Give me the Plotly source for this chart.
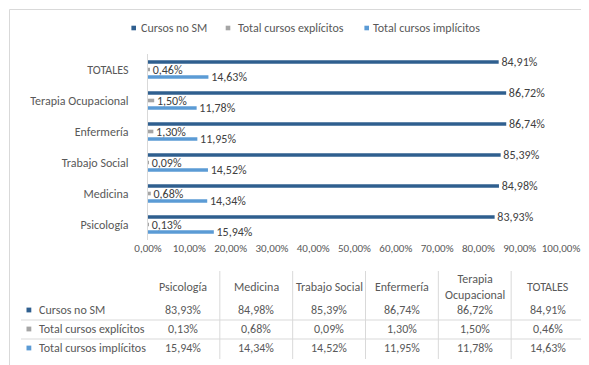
import plotly.graph_objects as go

# ---------------- data ----------------
categories = ["Psicología", "Medicina", "Trabajo Social", "Enfermería",
              "Terapia Ocupacional", "TOTALES"]
table_headers = ["Psicología", "Medicina", "Trabajo Social", "Enfermería",
                 "Terapia<br>Ocupacional", "TOTALES"]
series_names = ["Cursos no SM", "Total cursos explícitos", "Total cursos implícitos"]
cursos_no_sm = [83.93, 84.98, 85.39, 86.74, 86.72, 84.91]
cursos_explicitos = [0.13, 0.68, 0.09, 1.30, 1.50, 0.46]
cursos_implicitos = [15.94, 14.34, 14.52, 11.95, 11.78, 14.63]
x_ticks = [0, 10, 20, 30, 40, 50, 60, 70, 80, 90, 100]

series_values = [cursos_no_sm, cursos_explicitos, cursos_implicitos]
colors = ["#2F5F8F", "#A5A5A5", "#5B9BD5"]

# ---------------- layout geometry (pixels) ----------------
W, H = 589, 365
L, R, T, B = 140, 553, 46, 232
FONT = "Carlito, Calibri, Lato, 'Liberation Sans', sans-serif"
FS = 12
TXT = "#595959"
LINE = "#D9D9D9"


def px(x):
    return (x - L) / (R - L)


def py(y):
    return (B - y) / (B - T)


def fmt(v):
    return f"{v:.2f}".replace(".", ",") + "%"


fig = go.Figure()

# add in reverse so that "Cursos no SM" sits on top within each group
for name, vals, col in reversed(list(zip(series_names, series_values, colors))):
    fig.add_trace(go.Bar(
        name=name, y=categories, x=vals, orientation="h",
        marker=dict(color=col, line=dict(width=0)),
        text=["\u00a0" + fmt(v) for v in vals], textposition="outside",
        textfont=dict(family=FONT, size=FS, color="#404040"),
        constraintext="none", cliponaxis=False, showlegend=False,
        hoverinfo="x+y",
    ))

shapes = []
annotations = []

# chart border
shapes.append(dict(type="rect", xref="paper", yref="paper",
                   x0=px(1.5), x1=px(587.5), y0=py(363.5), y1=py(1.5),
                   line=dict(color=LINE, width=1), fillcolor="rgba(0,0,0,0)",
                   layer="below"))

# legend (top)
legend_sq_x = [125.7, 220.0, 358.7]
legend_txt_x = [130.5, 227.5, 362.5]
legend_y = 20
for name, col, sx, tx in zip(series_names, colors, legend_sq_x, legend_txt_x):
    shapes.append(dict(type="rect", xref="paper", yref="paper",
                       x0=px(sx - 2.3), x1=px(sx + 2.3),
                       y0=py(legend_y + 2.3), y1=py(legend_y - 2.3),
                       line=dict(width=0), fillcolor=col))
    annotations.append(dict(xref="paper", yref="paper", x=px(tx), y=py(legend_y),
                            xanchor="left", yanchor="middle", showarrow=False,
                            text=name, font=dict(family=FONT, size=FS, color=TXT)))

# data table
col_left, col_right = 139, 576
ncol = len(categories)
cw = (col_right - col_left) / ncol
col_bounds = [col_left + i * cw for i in range(ncol + 1)]
col_centers = [col_left + (i + 0.5) * cw for i in range(ncol)]
header_y = 279
row_y = [302, 321, 340]

for hdr, cx in zip(table_headers, col_centers):
    annotations.append(dict(xref="paper", yref="paper", x=px(cx), y=py(header_y),
                            xanchor="center", yanchor="middle", showarrow=False,
                            text=hdr, font=dict(family=FONT, size=FS, color=TXT)))

for name, vals, col, ry in zip(series_names, series_values, colors, row_y):
    shapes.append(dict(type="rect", xref="paper", yref="paper",
                       x0=px(18.5), x1=px(23.3), y0=py(ry + 2.4), y1=py(ry - 2.4),
                       line=dict(width=0), fillcolor=col))
    annotations.append(dict(xref="paper", yref="paper", x=px(28.5), y=py(ry),
                            xanchor="left", yanchor="middle", showarrow=False,
                            text=name, font=dict(family=FONT, size=FS, color=TXT)))
    for v, cx in zip(vals, col_centers):
        annotations.append(dict(xref="paper", yref="paper", x=px(cx), y=py(ry),
                                xanchor="center", yanchor="middle", showarrow=False,
                                text=fmt(v), font=dict(family=FONT, size=FS, color=TXT)))

# table horizontal lines
for hy in [312, 331]:
    shapes.append(dict(type="line", xref="paper", yref="paper",
                       x0=px(13), x1=px(576), y0=py(hy), y1=py(hy),
                       line=dict(color=LINE, width=1)))
# table vertical lines
for bx in col_bounds[1:-1]:
    shapes.append(dict(type="line", xref="paper", yref="paper",
                       x0=px(bx), x1=px(bx), y0=py(263), y1=py(351),
                       line=dict(color=LINE, width=1)))

fig.update_layout(
    width=W, height=H,
    margin=dict(l=L, r=W - R, t=T, b=H - B, pad=0),
    paper_bgcolor="white", plot_bgcolor="white",
    font=dict(family=FONT, size=FS, color=TXT),
    separators=",.",
    barmode="group", bargap=0.27, bargroupgap=0.52,
    showlegend=False,
    xaxis=dict(range=[0, 100], tickvals=x_ticks,
               ticktext=[fmt(v) for v in x_ticks], tickangle=0,
               showgrid=False, zeroline=False, showline=False, ticks="",
               ticklabelstandoff=0, ticklabeloverflow="allow", fixedrange=True,
               tickfont=dict(family=FONT, size=11, color=TXT)),
    yaxis=dict(type="category", categoryorder="array", categoryarray=categories,
               showgrid=False, zeroline=False, showline=True, linecolor=LINE,
               linewidth=1, ticks="", ticklabelstandoff=16, fixedrange=True,
               tickfont=dict(family=FONT, size=FS, color=TXT)),
    shapes=shapes, annotations=annotations,
)

fig.write_html("out.html")
